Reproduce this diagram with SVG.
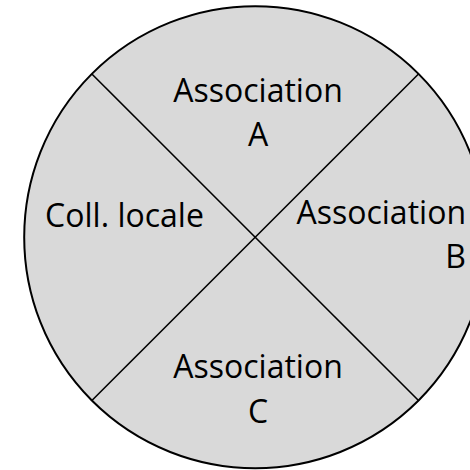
<svg xmlns="http://www.w3.org/2000/svg" width="470" height="470" viewBox="0 0 470 470">
  <style>
    .lbl { font-family: "Open Sans", "Liberation Sans", sans-serif; font-size: 32px; fill: #000; }
    .mid { text-anchor: middle; }
    .end { text-anchor: end; }
    .div { stroke: #000; stroke-width: 1.6; fill: none; }
  </style>
  <rect width="470" height="470" fill="#fff"/>
  <g id="disc">
    <circle cx="255.2" cy="237.2" r="231" fill="#d9d9d9" stroke="#000" stroke-width="2"/>
  </g>
  <g id="connectors">
    <line class="div" x1="91.9" y1="74" x2="418.5" y2="400.5"/>
    <line class="div" x1="418.5" y1="74" x2="91.9" y2="400.5"/>
  </g>
  <g id="assoc-a">
    <text class="lbl mid" x="258" y="101.7">Association</text>
    <text class="lbl mid" x="258" y="146">A</text>
  </g>
  <g id="coll-locale">
    <text class="lbl mid" x="124.5" y="226.7">Coll. locale</text>
  </g>
  <g id="assoc-b">
    <text class="lbl end" x="466" y="224.3">Association</text>
    <text class="lbl end" x="466" y="268.3">B</text>
  </g>
  <g id="assoc-c">
    <text class="lbl mid" x="258" y="378.3">Association</text>
    <text class="lbl mid" x="258" y="422.7">C</text>
  </g>
</svg>
